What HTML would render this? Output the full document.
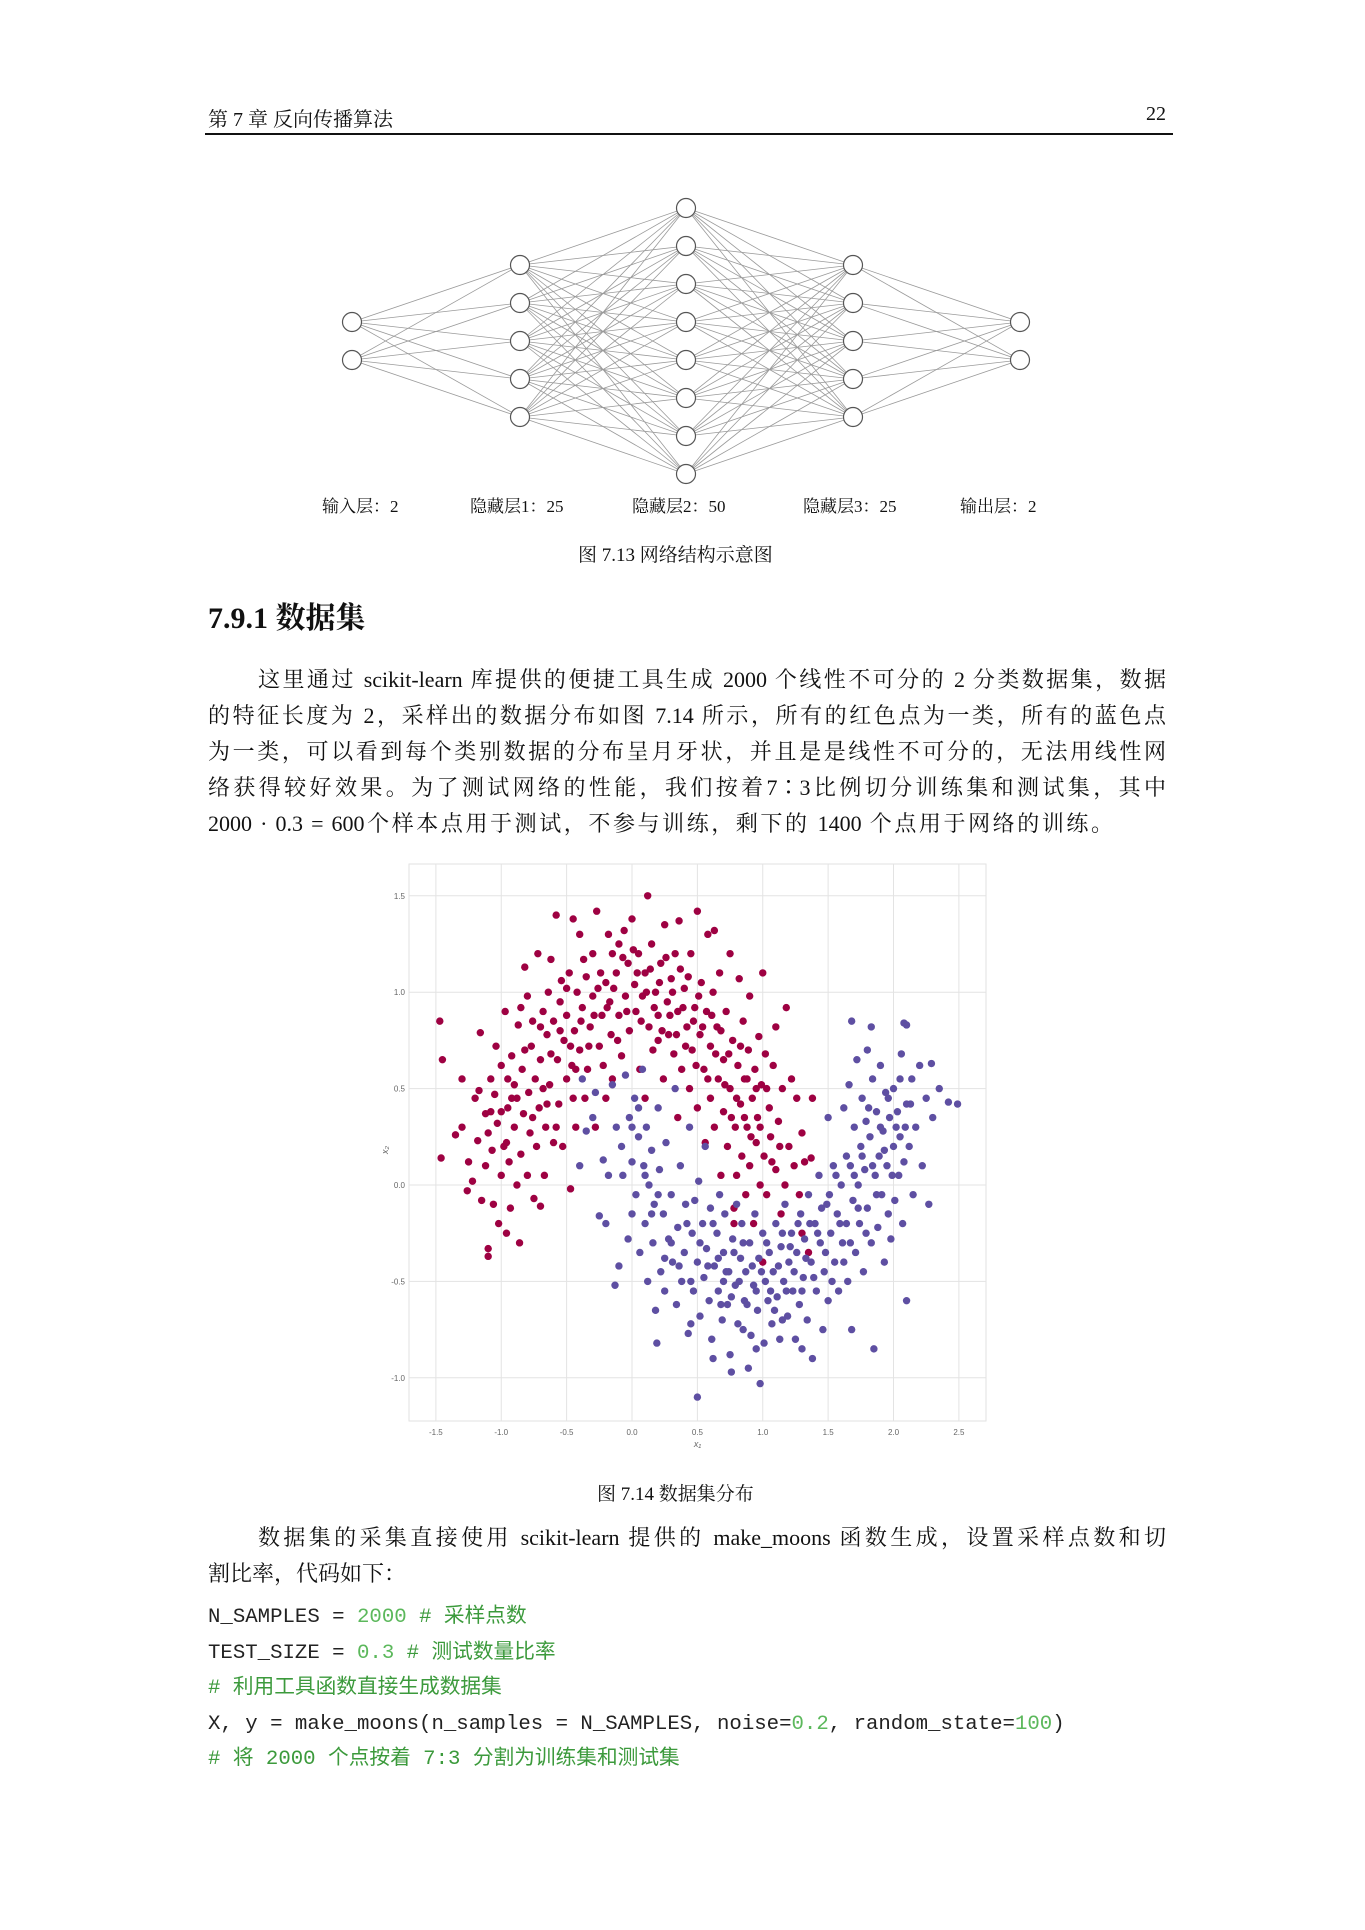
<!DOCTYPE html>
<html><head><meta charset="utf-8"><style>
body{margin:0;background:#fff;}
#page{position:relative;width:1365px;height:1930px;overflow:hidden;background:#fff;font-family:"Liberation Serif","Noto Serif CJK SC",serif;color:#111;}
.abs{position:absolute;white-space:nowrap;}
.pl{position:absolute;left:208px;width:958px;font-size:22px;line-height:28px;text-align:justify;text-align-last:justify;white-space:nowrap;}
.code{position:absolute;left:208px;font-family:"Liberation Mono","Noto Sans CJK SC",monospace;font-size:20.7px;line-height:24px;color:#222;white-space:pre;}
.g{color:#3c9a3c}
.n{color:#5cb85c}
</style></head><body>
<div id="page">
<div class="abs" style="left:208px;top:103px;font-size:20px;">第 7 章 反向传播算法</div>
<div class="abs" style="left:1146px;top:103px;font-size:20px;">22</div>
<div class="abs" style="left:205px;top:133px;width:968px;height:2px;background:#111;"></div>

<svg id="net" style="position:absolute;left:0;top:0" width="1365" height="540"></svg>

<div class="abs" style="left:322px;top:492px;font-size:17px;">输入层：2</div>
<div class="abs" style="left:470px;top:492px;font-size:17px;">隐藏层1：25</div>
<div class="abs" style="left:632px;top:492px;font-size:17px;">隐藏层2：50</div>
<div class="abs" style="left:803px;top:492px;font-size:17px;">隐藏层3：25</div>
<div class="abs" style="left:960px;top:492px;font-size:17px;">输出层：2</div>
<div class="abs" style="left:578px;top:540px;font-size:19px;">图 7.13 网络结构示意图</div>

<div class="abs" style="left:208px;top:593px;font-size:30px;font-weight:bold;">7.9.1 数据集</div>

<div class="pl" style="top:666px;left:258px;width:908px;">这里通过 scikit-learn 库提供的便捷工具生成 2000 个线性不可分的 2 分类数据集，数据</div>
<div class="pl" style="top:702px;">的特征长度为 2，采样出的数据分布如图 7.14 所示，所有的红色点为一类，所有的蓝色点</div>
<div class="pl" style="top:738px;">为一类，可以看到每个类别数据的分布呈月牙状，并且是是线性不可分的，无法用线性网</div>
<div class="pl" style="top:774px;">络获得较好效果。为了测试网络的性能，我们按着7∶3比例切分训练集和测试集，其中</div>
<div class="pl" style="top:810px;width:905px;">2000 · 0.3 = 600个样本点用于测试，不参与训练，剩下的 1400 个点用于网络的训练。</div>

<svg id="chart" style="position:absolute;left:0;top:0" width="1365" height="1460"></svg>

<div class="abs" style="left:597px;top:1479px;font-size:19px;">图 7.14 数据集分布</div>

<div class="pl" style="top:1524px;left:258px;width:908px;">数据集的采集直接使用 scikit-learn 提供的 make_moons 函数生成，设置采样点数和切</div>
<div class="abs" style="top:1560px;left:208px;font-size:22px;line-height:28px;">割比率，代码如下：</div>

<div class="code" style="top:1606px;">N_SAMPLES = <span class="n">2000</span> <span class="g"># 采样点数</span></div>
<div class="code" style="top:1642px;">TEST_SIZE = <span class="n">0.3</span> <span class="g"># 测试数量比率</span></div>
<div class="code" style="top:1677px;"><span class="g"># 利用工具函数直接生成数据集</span></div>
<div class="code" style="top:1713px;">X, y = make_moons(n_samples = N_SAMPLES, noise=<span class="n">0.2</span>, random_state=<span class="n">100</span>)</div>
<div class="code" style="top:1748px;"><span class="g"># 将 2000 个点按着 7:3 分割为训练集和测试集</span></div>
</div>
<script>
const NS="http://www.w3.org/2000/svg";
const layerX=[352,520,686,853,1020];
const layerSizes=[2,5,8,5,2];
const netCenterY=341, netGap=38;
const net=document.getElementById('net');
function mk(tag,attrs,parent){const e=document.createElementNS(NS,tag);for(const k in attrs)e.setAttribute(k,attrs[k]);parent.appendChild(e);return e;}
const nodes=layerSizes.map((n,i)=>{const a=[];for(let j=0;j<n;j++)a.push([layerX[i],netCenterY+(j-(n-1)/2)*netGap]);return a;});
for(let i=0;i<nodes.length-1;i++)for(const p of nodes[i])for(const q of nodes[i+1]){
 const l=mk('line',{x1:p[0],y1:p[1],x2:q[0],y2:q[1],stroke:'#9a9a9a','stroke-width':0.8},net);
 
 
}
nodes.forEach(layer=>layer.forEach(p=>{
 const c=mk('circle',{cx:p[0],cy:p[1],r:9.5,fill:'#fff',stroke:'#555','stroke-width':1.2},net);
 
 
}));

const xTicks=[-1.5,-1.0,-0.5,0.0,0.5,1.0,1.5,2.0,2.5];
const yTicks=[-1.0,-0.5,0.0,0.5,1.0,1.5];
const redPts=[[-1.47,0.85],[-1.45,0.65],[-1.46,0.14],[-1.35,0.26],[-1.3,0.55],[-1.3,0.3],[-1.25,0.12],[-1.26,-0.03],[-1.2,0.45],[-1.22,0.02],[-1.18,0.23],[-1.17,0.49],[-1.16,0.79],[-1.15,-0.08],[-1.12,0.37],[-1.12,0.1],[-1.1,-0.33],[-1.1,-0.37],[-1.1,0.27],[-1.08,0.55],[-1.07,0.18],[-1.06,-0.1],[-1.05,0.47],[-1.04,0.72],[-1.03,0.32],[-1.02,-0.2],[-1.0,0.05],[-1.0,0.62],[-0.98,0.2],[-0.97,0.9],[-0.96,-0.25],[-0.95,0.4],[-0.94,0.12],[-0.93,-0.12],[-0.92,0.67],[-0.9,0.3],[-0.9,0.52],[-0.88,0.0],[-0.87,0.83],[-0.86,-0.3],[-0.85,0.16],[-0.84,0.6],[-0.83,0.37],[-0.82,1.13],[-0.8,0.98],[-0.8,0.05],[-0.79,0.48],[-0.78,0.27],[-0.77,0.72],[-0.76,0.85],[-0.75,-0.07],[-0.74,0.55],[-0.73,0.2],[-0.72,1.2],[-0.71,0.4],[-0.7,0.65],[-0.7,-0.11],[-0.68,0.9],[-0.67,0.05],[-0.66,0.3],[-0.65,0.78],[-0.64,1.0],[-0.63,0.52],[-0.62,1.17],[-0.6,0.22],[-0.6,0.85],[-0.58,1.4],[-0.57,0.65],[-0.56,0.42],[-0.55,0.95],[-0.54,1.06],[-0.53,0.2],[-0.52,0.75],[-0.5,0.55],[-0.5,0.88],[-0.48,1.1],[-0.47,-0.02],[-0.46,0.62],[-0.45,1.38],[-0.44,0.8],[-0.43,0.3],[-0.42,1.0],[-0.4,0.7],[-0.4,1.3],[-0.38,0.92],[-0.36,0.45],[-0.35,1.08],[-0.34,0.6],[-0.32,0.82],[-0.3,1.2],[-0.3,0.98],[-0.28,0.3],[-0.27,1.42],[-0.25,0.72],[-0.24,1.1],[-0.23,0.88],[-0.2,1.05],[-0.2,0.45],[-0.18,1.3],[-0.17,0.95],[-0.16,0.78],[-0.15,1.2],[-0.12,1.1],[-0.1,0.88],[-0.1,1.25],[-0.08,0.67],[-0.06,1.32],[-0.05,0.98],[-0.03,1.15],[-0.02,0.8],[0.0,1.38],[0.02,1.04],[0.03,0.9],[0.05,1.2],[0.06,0.6],[0.08,0.98],[0.1,1.1],[0.12,1.5],[0.13,0.82],[0.15,1.25],[0.16,0.7],[0.18,1.0],[0.2,0.88],[0.22,1.15],[0.24,0.55],[0.25,1.35],[0.27,0.95],[0.28,0.78],[0.3,1.07],[0.32,0.68],[0.33,1.2],[0.35,0.9],[0.36,1.37],[0.38,0.6],[0.4,1.02],[0.42,0.82],[0.44,0.5],[0.45,1.2],[0.46,0.7],[0.48,0.92],[0.5,1.42],[0.5,0.4],[0.52,0.78],[0.53,1.05],[0.55,0.6],[0.56,0.22],[0.57,0.9],[0.58,1.3],[0.6,0.72],[0.6,0.45],[0.62,1.0],[0.63,0.3],[0.65,0.82],[0.66,0.55],[0.67,1.1],[0.68,0.05],[0.7,0.65],[0.7,0.38],[0.72,0.9],[0.73,0.2],[0.75,1.2],[0.75,0.5],[0.77,0.75],[0.78,-0.12],[0.79,0.3],[0.8,0.05],[0.81,0.62],[0.82,1.07],[0.83,0.42],[0.84,0.15],[0.85,0.85],[0.86,0.55],[0.87,-0.05],[0.88,0.3],[0.89,0.7],[0.9,0.98],[0.9,0.1],[0.92,0.45],[0.93,-0.2],[0.94,0.6],[0.95,0.22],[0.96,0.35],[0.97,0.77],[0.98,0.0],[0.99,0.52],[1.0,1.1],[1.01,0.15],[1.02,0.68],[1.03,-0.05],[1.05,0.4],[1.06,0.25],[1.08,0.62],[1.1,0.08],[1.1,0.82],[1.12,0.33],[1.14,-0.15],[1.15,0.5],[1.17,0.0],[1.18,0.92],[1.2,0.2],[1.22,0.55],[1.24,0.1],[1.26,0.45],[1.28,-0.05],[1.3,0.27],[1.32,0.12],[1.38,0.45],[1.37,0.14],[0.63,1.32],[-0.85,0.92],[-0.95,0.55],[-0.65,0.42],[-0.45,0.45],[0.1,0.45],[0.2,0.75],[-0.15,0.55],[0.35,0.35],[0.78,-0.2],[1.0,-0.4],[1.35,-0.35],[1.3,-0.25],
[-0.88,0.45],[-0.82,0.7],[-0.76,0.35],[-0.7,0.82],[-0.68,0.5],[-0.62,0.68],[-0.58,0.3],[-0.55,0.8],[-0.5,1.02],[-0.47,0.72],[-0.43,0.6],[-0.39,0.85],[-0.37,1.17],[-0.33,0.72],[-0.29,0.88],[-0.26,1.02],[-0.22,0.62],[-0.19,0.92],[-0.14,1.02],[-0.11,0.75],[-0.07,1.18],[-0.04,0.9],[0.01,1.22],[0.04,1.1],[0.07,0.85],[0.11,1.0],[0.14,1.12],[0.17,0.92],[0.21,1.05],[0.23,0.8],[0.26,1.18],[0.29,0.88],[0.31,1.0],[0.34,0.78],[0.37,1.12],[0.39,0.92],[0.41,0.72],[0.43,1.08],[0.47,0.85],[0.49,0.62],[0.51,0.98],[0.54,0.82],[0.58,0.55],[0.61,0.88],[0.64,0.68],[0.68,0.8],[0.71,0.52],[0.74,0.68],[0.76,0.35],[0.8,0.45],[0.83,0.72],[0.86,0.35],[0.88,0.55],[0.91,0.25],[0.95,0.5],[0.98,0.3],[1.03,0.5],[1.07,0.12],[1.13,0.2],[-1.0,0.38],[-0.96,0.22],[-1.08,0.38],[-0.92,0.45]];
const bluePts=[[-0.4,0.1],[-0.38,0.55],[-0.35,0.28],[-0.3,0.35],[-0.28,0.48],[-0.25,-0.16],[-0.22,0.13],[-0.2,-0.2],[-0.18,0.05],[-0.15,0.52],[-0.13,-0.52],[-0.12,0.3],[-0.1,-0.42],[-0.08,0.2],[-0.07,0.05],[-0.05,0.57],[-0.03,-0.28],[-0.02,0.35],[0.0,0.12],[0.0,-0.15],[0.02,0.45],[0.03,-0.05],[0.05,0.25],[0.06,-0.35],[0.08,0.6],[0.09,0.1],[0.1,-0.2],[0.11,0.3],[0.12,-0.5],[0.13,0.0],[0.15,0.18],[0.16,-0.3],[0.17,-0.1],[0.18,-0.65],[0.19,-0.82],[0.2,0.4],[0.21,0.08],[0.22,-0.45],[0.24,-0.15],[0.25,-0.55],[0.26,0.22],[0.28,-0.28],[0.3,-0.05],[0.31,-0.4],[0.33,0.5],[0.34,-0.62],[0.35,-0.22],[0.37,0.1],[0.38,-0.5],[0.4,-0.35],[0.41,-0.1],[0.43,-0.77],[0.44,0.3],[0.46,-0.25],[0.47,-0.55],[0.48,-0.08],[0.5,-1.1],[0.5,-0.4],[0.51,0.02],[0.52,-0.68],[0.54,-0.2],[0.55,-0.48],[0.56,0.2],[0.57,-0.33],[0.59,-0.6],[0.6,-0.12],[0.61,-0.8],[0.62,-0.9],[0.63,-0.42],[0.65,-0.25],[0.66,-0.55],[0.67,-0.05],[0.69,-0.7],[0.7,-0.35],[0.71,-0.15],[0.73,-0.62],[0.74,-0.45],[0.75,-0.88],[0.76,-0.97],[0.77,-0.28],[0.79,-0.52],[0.8,-0.1],[0.81,-0.72],[0.83,-0.38],[0.84,-0.2],[0.86,-0.6],[0.87,-0.45],[0.89,-0.95],[0.9,-0.3],[0.91,-0.78],[0.93,-0.52],[0.94,-0.15],[0.96,-0.65],[0.97,-0.38],[0.98,-1.03],[1.0,-0.25],[1.01,-0.82],[1.02,-0.5],[1.04,-0.6],[1.05,-0.35],[1.07,-0.72],[1.08,-0.45],[1.1,-0.2],[1.11,-0.58],[1.13,-0.8],[1.14,-0.32],[1.16,-0.5],[1.17,-0.1],[1.19,-0.68],[1.2,-0.4],[1.22,-0.25],[1.23,-0.55],[1.25,-0.8],[1.26,-0.35],[1.28,-0.62],[1.29,-0.15],[1.31,-0.48],[1.32,-0.28],[1.34,-0.7],[1.35,-0.05],[1.37,-0.4],[1.38,-0.9],[1.4,-0.2],[1.41,-0.55],[1.43,0.05],[1.44,-0.3],[1.46,-0.75],[1.47,-0.45],[1.49,-0.1],[1.5,0.35],[1.5,-0.6],[1.52,-0.25],[1.54,0.1],[1.55,-0.4],[1.57,-0.15],[1.58,-0.55],[1.6,0.0],[1.61,-0.3],[1.62,0.4],[1.64,-0.2],[1.65,-0.5],[1.66,0.52],[1.67,0.1],[1.68,-0.75],[1.69,-0.08],[1.7,0.3],[1.71,-0.35],[1.72,0.65],[1.73,0.0],[1.74,-0.2],[1.75,0.2],[1.76,0.45],[1.77,-0.45],[1.78,0.08],[1.79,0.33],[1.8,0.7],[1.8,-0.12],[1.82,0.25],[1.83,-0.3],[1.84,0.55],[1.85,-0.85],[1.86,0.05],[1.87,0.38],[1.88,-0.22],[1.89,0.15],[1.9,0.62],[1.91,-0.05],[1.92,0.28],[1.93,-0.4],[1.94,0.48],[1.95,0.1],[1.96,-0.15],[1.97,0.35],[1.98,-0.28],[2.0,0.2],[2.0,0.5],[2.01,-0.08],[2.03,0.38],[2.04,0.05],[2.05,0.25],[2.06,0.68],[2.07,-0.2],[2.08,0.12],[2.1,0.42],[2.1,0.83],[2.1,-0.6],[2.12,0.2],[2.14,0.55],[2.15,-0.05],[2.17,0.3],[2.2,0.62],[2.22,0.1],[2.25,0.45],[2.27,-0.1],[2.29,0.63],[2.3,0.35],[2.35,0.5],[2.42,0.43],[2.49,0.42],[1.68,0.85],[1.83,0.82],[2.08,0.84],[0.45,-0.72],[0.95,-0.85],[1.15,-0.7],[1.3,-0.85],[0.7,-0.5],[0.85,-0.75],
[0.3,-0.3],[0.36,-0.42],[0.42,-0.2],[0.45,-0.5],[0.52,-0.3],[0.58,-0.42],[0.62,-0.2],[0.66,-0.38],[0.68,-0.62],[0.72,-0.45],[0.76,-0.58],[0.78,-0.35],[0.82,-0.5],[0.85,-0.3],[0.88,-0.62],[0.92,-0.42],[0.95,-0.55],[0.99,-0.45],[1.03,-0.3],[1.06,-0.55],[1.09,-0.65],[1.12,-0.42],[1.15,-0.25],[1.18,-0.55],[1.21,-0.32],[1.24,-0.45],[1.27,-0.2],[1.3,-0.55],[1.33,-0.38],[1.36,-0.2],[1.39,-0.48],[1.42,-0.25],[1.45,-0.12],[1.48,-0.35],[1.51,-0.05],[1.53,-0.5],[1.56,0.05],[1.59,-0.2],[1.62,-0.4],[1.64,0.15],[1.67,-0.3],[1.7,0.05],[1.73,-0.12],[1.76,0.15],[1.79,-0.25],[1.81,0.4],[1.84,0.1],[1.87,-0.05],[1.9,0.3],[1.93,0.18],[1.96,0.45],[1.99,0.05],[2.02,0.3],[2.05,0.55],[2.09,0.3],[2.13,0.42],[0.1,0.05],[0.2,-0.05],[0.05,0.4],[0.15,-0.15],[0.0,0.3],[0.25,-0.38]];

const box={l:409,r:986,t:864,b:1421};
const X0=632, XU=130.75, Y0=1185, YU=192.8;
const sx=v=>X0+v*XU, sy=v=>Y0-v*YU;
const ch=document.getElementById('chart');
const frame=mk('rect',{x:box.l,y:box.t,width:box.r-box.l,height:box.b-box.t,fill:'#fff',stroke:'#e2e2e2','stroke-width':1},ch);


xTicks.forEach(v=>{
 const g=mk('line',{x1:sx(v),x2:sx(v),y1:box.t,y2:box.b,stroke:'#e3e3e3','stroke-width':1},ch);
 
 
 const t=mk('text',{x:sx(v),y:box.b+14,'text-anchor':'middle','font-size':8,fill:'#666','font-family':'Liberation Sans, sans-serif'},ch);
 t.textContent=v.toFixed(1);
 
 
});
yTicks.forEach(v=>{
 const g=mk('line',{x1:box.l,x2:box.r,y1:sy(v),y2:sy(v),stroke:'#e3e3e3','stroke-width':1},ch);
 
 
 const t=mk('text',{x:box.l-4,y:sy(v)+3,'text-anchor':'end','font-size':8,fill:'#666','font-family':'Liberation Sans, sans-serif'},ch);
 t.textContent=v.toFixed(1);
 
 
});
const xl=mk('text',{x:(box.l+box.r)/2,y:box.b+26,'text-anchor':'middle','font-size':9,fill:'#666','font-family':'Liberation Sans, sans-serif','font-style':'italic'},ch);
xl.textContent='x₁';


const yl=mk('text',{x:388,y:1150,'text-anchor':'middle','font-size':9,fill:'#666','font-family':'Liberation Sans, sans-serif','font-style':'italic',transform:'rotate(-90 388 1150)'},ch);
yl.textContent='x₂';


redPts.forEach(p=>{
 const c=mk('circle',{cx:sx(p[0]),cy:sy(p[1]),r:3.7,fill:'#9e0142'},ch);
 
 
});
bluePts.forEach(p=>{
 const c=mk('circle',{cx:sx(p[0]),cy:sy(p[1]),r:3.7,fill:'#5e4fa2'},ch);
 
 
});
</script>
</body></html>
